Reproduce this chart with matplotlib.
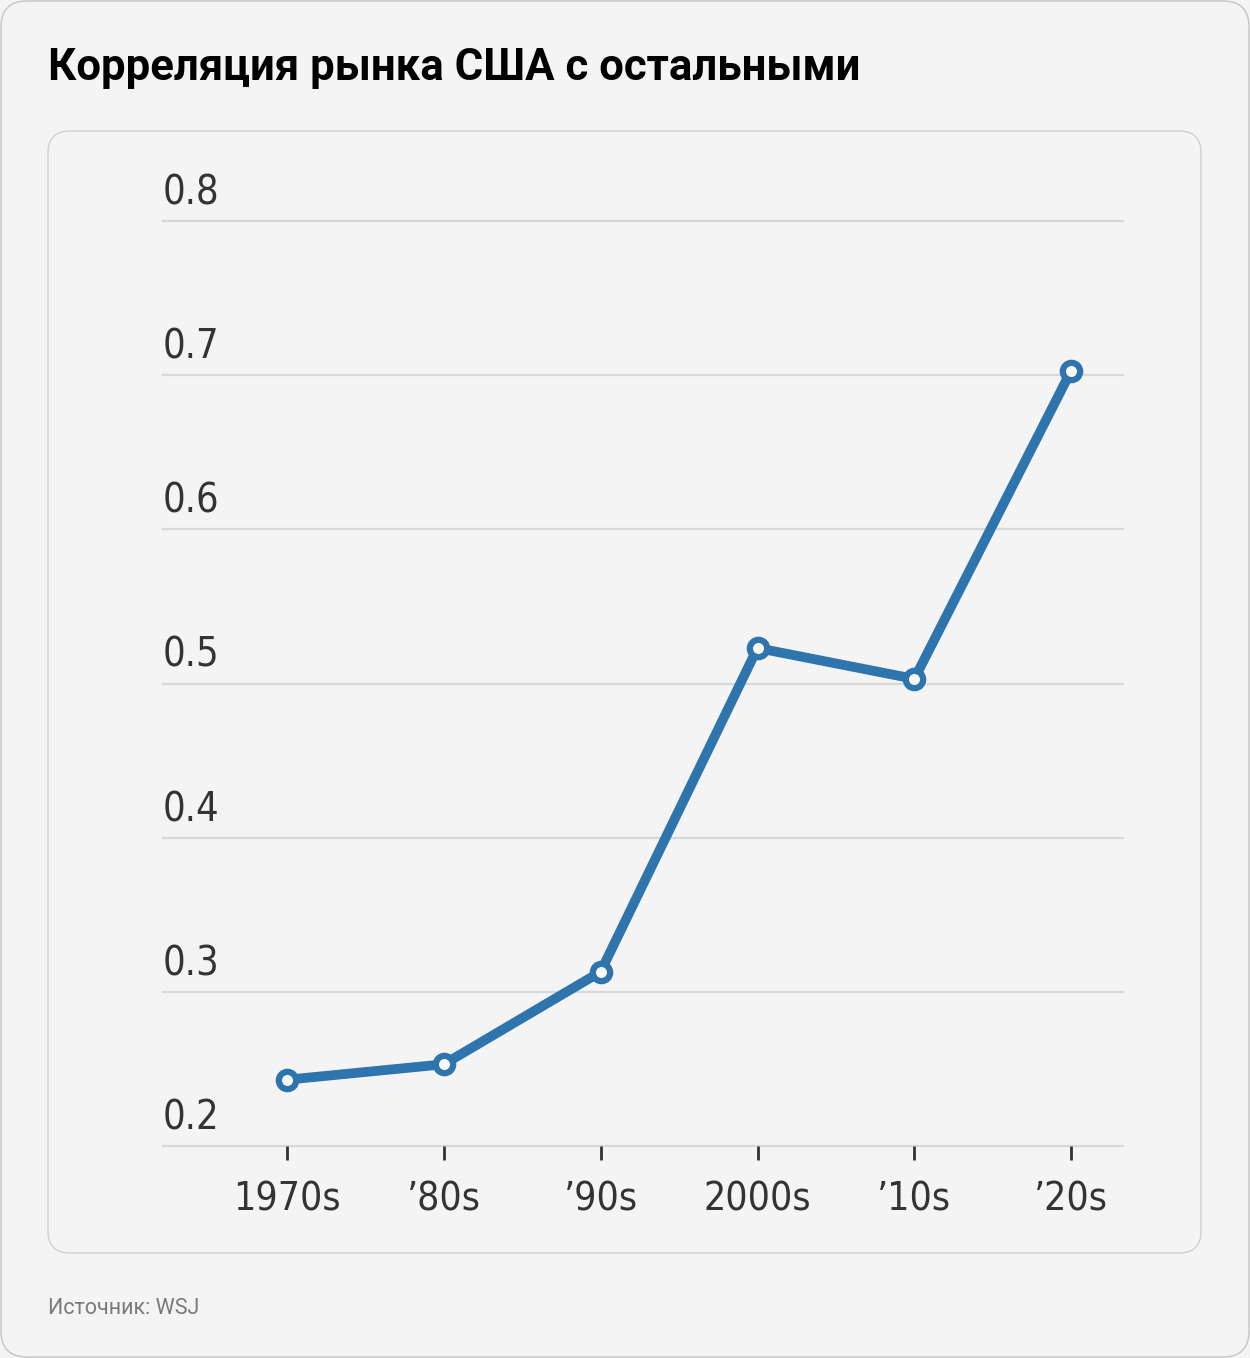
import matplotlib
matplotlib.use("Agg")
import matplotlib.pyplot as plt
import matplotlib.transforms as mtransforms
from matplotlib import font_manager
from matplotlib.patches import FancyBboxPatch

# values
decades = ["1970s", "\u201980s", "\u201990s", "2000s", "\u201910s", "\u201920s"]
correlation = [0.243, 0.253, 0.313, 0.523, 0.503, 0.703]
y_ticks = [0.2, 0.3, 0.4, 0.5, 0.6, 0.7, 0.8]

title = "Корреляция рынка США с остальными"
source = "Источник: WSJ"

W, H = 1250, 1358
BG = "#f4f4f4"
LINE = "#2e74ad"

names = {f.name for f in font_manager.fontManager.ttflist}
axis_font = "Liberation Sans Narrow" if "Liberation Sans Narrow" in names else "DejaVu Sans"
head_font = "Roboto" if "Roboto" in names else "DejaVu Sans"

fig = plt.figure(figsize=(W / 100, H / 100), dpi=100)
fig.patch.set_facecolor(BG)
inch = fig.dpi_scale_trans


def px_box(x0, y0, x1, y1, r, ec):
    # rounded box given in pixel coords from the top-left corner
    p = FancyBboxPatch((x0 / 100, (H - y1) / 100), (x1 - x0) / 100, (y1 - y0) / 100,
                       boxstyle=f"round,pad=0,rounding_size={r / 100}",
                       transform=inch, facecolor=BG, edgecolor=ec, linewidth=1.0,
                       zorder=-10)
    fig.patches.append(p)


px_box(1, 1, W - 1, H - 1, 26, "#c4c4c4")
px_box(48, 131, 1201, 1253, 22, "#cfcfcf")

fig.text(48 / W, 1 - 80 / H, title, fontsize=31.5, fontweight="bold",
         family=head_font, color="#000000", va="baseline", ha="left")
fig.text(48 / W, 1 - 1314 / H, source, fontsize=15.5, family=head_font,
         color="#7a7a7a", va="baseline", ha="left")

# axes: gridlines span x 163..1123, y 0.8 at 221 px and 0.2 at 1146 px
ax = fig.add_axes([163 / W, 1 - 1146 / H, 960 / W, 925 / H])
ax.set_facecolor("none")
ax.set_zorder(5)
x = list(range(len(decades)))
ax.set_xlim(-0.79, 5.33)
ax.set_ylim(0.2, 0.8)

for v in y_ticks:
    ax.axhline(v, color="#d8d8d8", linewidth=1.6, zorder=1, clip_on=False)

ax.plot(x, correlation, color=LINE, linewidth=7, zorder=3, clip_on=False,
        solid_capstyle="round", solid_joinstyle="round")
ax.plot(x, correlation, linestyle="none", marker="o", markersize=12.5,
        markerfacecolor="#f8f8f8", markeredgecolor=LINE, markeredgewidth=4.5,
        zorder=4, clip_on=False)

for s in ax.spines.values():
    s.set_visible(False)

ax.set_yticks([])
ax.set_xticks(x)
ax.set_xticklabels(decades, fontsize=28, family=axis_font, color="#333333",
                   stretch="condensed")
ax.tick_params(axis="x", length=10, width=2, color="#333333", pad=15)

# y labels sit above their gridlines, left aligned
lab_trans = mtransforms.offset_copy(ax.get_yaxis_transform(), fig=fig,
                                    x=0, y=12, units="points")
for v in y_ticks:
    ax.text(0, v, f"{v:.1f}", transform=lab_trans, fontsize=28.5,
            family=axis_font, stretch="condensed", color="#333333",
            ha="left", va="baseline")

fig.savefig("out.png", dpi=100, facecolor=BG)
